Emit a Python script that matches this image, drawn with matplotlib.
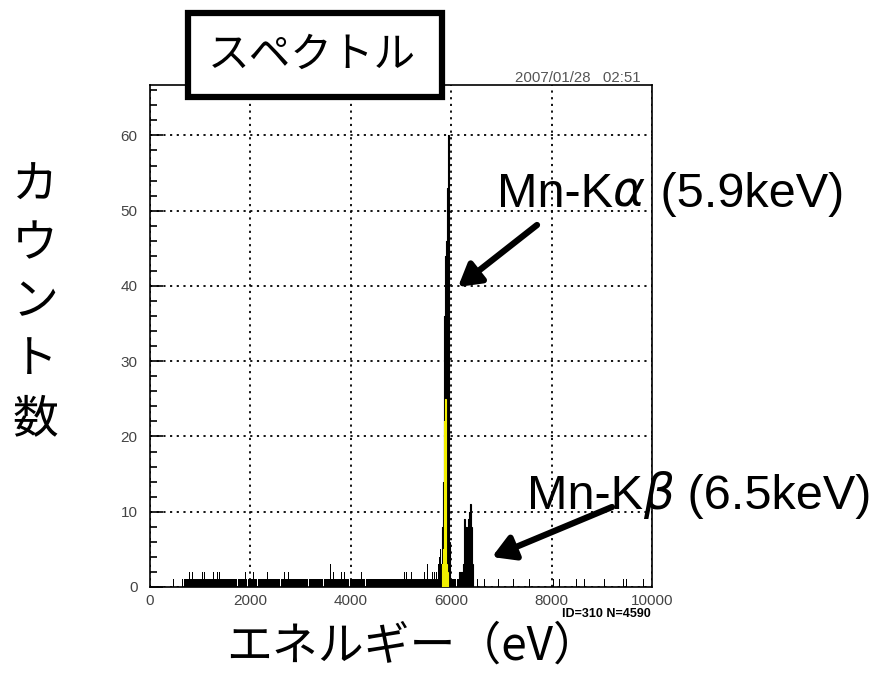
import matplotlib
matplotlib.use("Agg")
import matplotlib.pyplot as plt
from matplotlib.patches import Rectangle
from matplotlib.ticker import MultipleLocator

plt.rcParams['font.family'] = ['Liberation Sans', 'Noto Sans CJK JP']

# ---------------- data ----------------
title = "スペクトル"
x_label = "エネルギー（eV）"
y_label = "カウント数"
x_ticks = [0, 2000, 4000, 6000, 8000, 10000]
y_ticks = [0, 10, 20, 30, 40, 50, 60]

bin_w = 20  # eV
# runs of count = 1 (start, end) in eV
base_runs = [(460, 480), (640, 660), (680, 1740), (1760, 1940), (1960, 2140),
             (2160, 2580), (2600, 3140), (3160, 3440), (3460, 3960),
             (3980, 4280), (4300, 5740), (5970, 6100), (6120, 6160)]
# spikes above the baseline (energy, count)
spike_e = [780, 840, 1040, 1080, 1260, 1340, 1380, 1900, 2060, 2340, 2660, 2740,
           3580, 3640, 3800, 3860, 4200, 5060, 5100, 5200, 5460, 5520, 5620,
           5660, 5700, 5740, 5760, 5780]
spike_c = [2, 2, 2, 2, 2, 2, 2, 2, 2, 2, 2, 2,
           3, 2, 2, 2, 2, 2, 2, 2, 2, 3, 2,
           2, 2, 3, 4, 5]
# Mn-K alpha peak (10 eV bins)
ka_e = [5800, 5810, 5820, 5830, 5840, 5850, 5860, 5870, 5880, 5890,
        5900, 5910, 5920, 5930, 5940, 5950, 5960]
ka_c = [3, 5, 8, 10, 14, 24, 36, 40, 44, 46,
        46, 47, 53, 56, 60, 46, 6]
# second (yellow) histogram
ye_e = [5820, 5830, 5840, 5850, 5860, 5870, 5880, 5890, 5900, 5910, 5920]
ye_c = [3, 3, 5, 5, 22, 22, 25, 22, 3, 3, 2]
# Mn-K beta peak (20 eV bins)
kb_e = [6160, 6180, 6200, 6220, 6240, 6260, 6280, 6300, 6320, 6340, 6360, 6380, 6400, 6420]
kb_c = [2, 2, 2, 2, 3, 9, 8, 8, 4, 9, 10, 11, 8, 3]
# isolated single counts at high energy
tail_e = [6520, 6660, 6940, 7240, 7540, 8020, 8140, 8480, 8640, 9040, 9420, 9480, 9820]
tail_c = [1] * len(tail_e)

# ---------------- figure ----------------
W, H = 873, 678
fig = plt.figure(figsize=(W / 100, H / 100), dpi=100)
ax = fig.add_axes([150 / W, 1 - 587 / H, (652 - 150) / W, (587 - 85) / H])

ax.set_xlim(0, 10000)
ax.set_ylim(0, 66.7)


def stairs(e_list, c_list, width, color, z):
    edges = list(e_list) + [e_list[-1] + width]
    ax.stairs(c_list, edges, fill=True, color=color, linewidth=0, zorder=z)
    ax.stairs(c_list, edges, fill=False, color=color, linewidth=0.8, zorder=z)


for s, e in base_runs:
    ax.bar(s, 1, width=e - s, align='edge', color='black', linewidth=0, zorder=3)
ax.bar(spike_e, spike_c, width=bin_w, align='edge', color='black', linewidth=0, zorder=3)
stairs(ka_e, ka_c, 10, 'black', 3)
stairs(kb_e, kb_c, bin_w, 'black', 3)
ax.bar(tail_e, tail_c, width=bin_w, align='edge', color='black', linewidth=0, zorder=3)
stairs(ye_e, ye_c, 10, '#f2ef00', 4)

# grid
ax.set_xticks(x_ticks)
ax.set_yticks(y_ticks)
ax.yaxis.set_minor_locator(MultipleLocator(2))
ax.grid(True, which='major', color='black', linestyle=(0, (1.2, 2.5)), linewidth=1.3)
ax.set_axisbelow(True)

ax.tick_params(axis='y', which='major', direction='in', length=9, width=1.2,
               labelsize=11, labelcolor='#444444', pad=9)
ax.tick_params(axis='y', which='minor', direction='in', length=5, width=1.2)
ax.tick_params(axis='x', which='major', length=0, labelsize=11,
               labelcolor='#444444', pad=5)
for sp in ax.spines.values():
    sp.set_linewidth(1.2)

# labels
fig.text(35 / W, 1 - 302 / H, "\n".join(y_label), family=['Noto Sans CJK JP'],
         fontsize=33, ha='center', va='center', linespacing=1.26)
fig.text(413 / W, 1 - 646 / H, x_label, family=['Noto Sans CJK JP'],
         fontsize=33, ha='center', va='center')

# title box
fig.patches.append(Rectangle((188 / W, 1 - 97 / H), (442 - 188) / W, (97 - 13) / H,
                             transform=fig.transFigure, facecolor='white',
                             edgecolor='black', linewidth=4.5, zorder=10))
fig.text(312 / W, 1 - 55 / H, title, family=['Noto Sans CJK JP'], fontsize=30,
         ha='center', va='center', zorder=11)

# small texts
fig.text(641 / W, 1 - 82 / H, "2007/01/28   02:51", fontsize=10.8, color='#555555',
         ha='right', va='baseline', zorder=5)
fig.text(651 / W, 1 - 617 / H, "ID=310 N=4590", fontsize=9, color='black',
         fontweight='bold', ha='right', va='baseline')

# peak annotations, built piece by piece
renderer = fig.canvas.get_renderer()


def chain(x_px, y_px, parts, fontsize=35):
    x = x_px
    for s, dx, kw in parts:
        t = fig.text((x + dx) / W, 1 - y_px / H, s, fontsize=fontsize, ha='left',
                     va='baseline', zorder=12, **kw)
        x = t.get_window_extent(renderer=renderer).x1


chain(497, 207, [("Mn-K", 0, {}),
                 ("α", 0, dict(style='italic', family=['DejaVu Sans'])),
                 (" (5.9keV)", 2, {})])
chain(527, 509, [("Mn-K", 0, {}),
                 ("β", 0, dict(style='italic', family=['DejaVu Sans'])),
                 (" (6.5keV)", 0, {})])

arrow = dict(arrowstyle='-|>,head_length=0.6,head_width=0.35', lw=4.5,
             color='black', mutation_scale=22, shrinkA=0, shrinkB=0)
ax.annotate("", xy=(458, H - 287), xytext=(537, H - 225),
            xycoords='figure pixels', textcoords='figure pixels',
            arrowprops=arrow, annotation_clip=False)
ax.annotate("", xy=(492, H - 557), xytext=(612, H - 507),
            xycoords='figure pixels', textcoords='figure pixels',
            arrowprops=arrow, annotation_clip=False)

fig.savefig("out.png", dpi=100)
